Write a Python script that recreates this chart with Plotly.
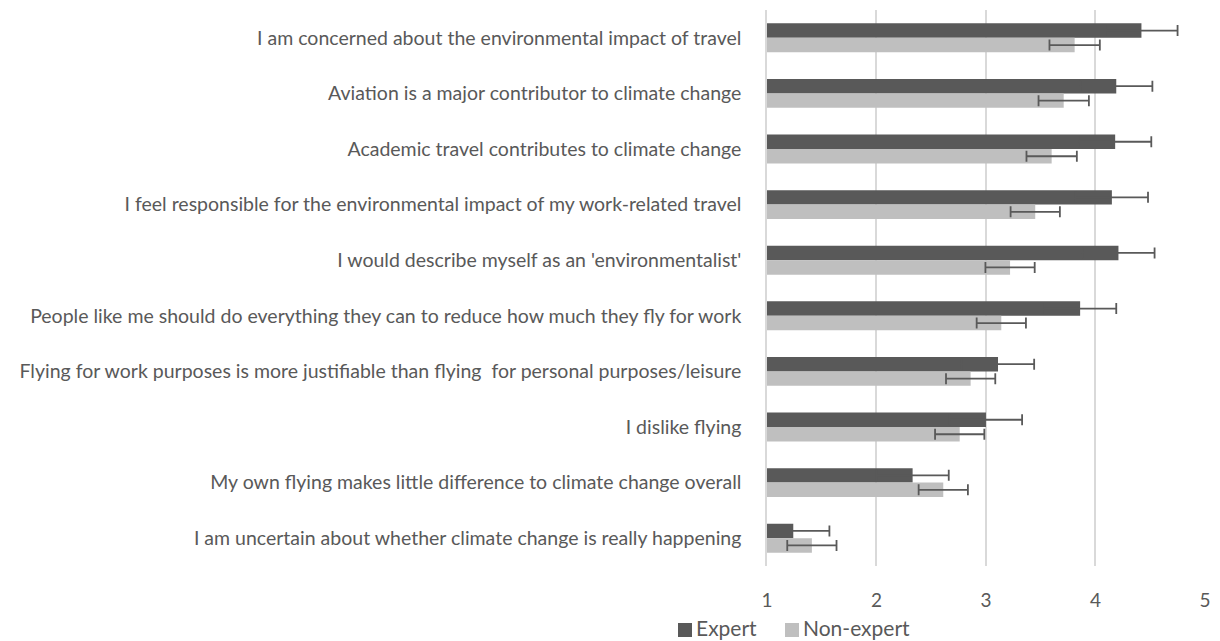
import plotly.graph_objects as go

categories = [
    "I am concerned about the environmental impact of travel",
    "Aviation is a major contributor to climate change",
    "Academic travel contributes to climate change",
    "I feel responsible for the environmental impact of my work-related travel",
    "I would describe myself as an 'environmentalist'",
    "People like me should do everything they can to reduce how much they fly for work",
    "Flying for work purposes is more justifiable than flying  for personal purposes/leisure",
    "I dislike flying",
    "My own flying makes little difference to climate change overall",
    "I am uncertain about whether climate change is really happening",
]
expert = [4.42, 4.19, 4.18, 4.15, 4.21, 3.86, 3.11, 3.00, 2.33, 1.24]
expert_err = [0.33, 0.33, 0.33, 0.33, 0.33, 0.33, 0.33, 0.33, 0.33, 0.33]
nonexpert = [3.81, 3.71, 3.60, 3.45, 3.22, 3.14, 2.86, 2.76, 2.61, 1.41]
nonexpert_err = [0.23, 0.23, 0.23, 0.225, 0.225, 0.225, 0.225, 0.225, 0.225, 0.225]
x_ticks = [1, 2, 3, 4, 5]
series_names = ["Expert", "Non-expert"]
series_colors = ["#595959", "#bfbfbf"]

err_style = dict(type="data", thickness=1.8, width=5.5, color="#595959")

fig = go.Figure()
for name, vals, errs, col in zip(series_names, [expert, nonexpert],
                                 [expert_err, nonexpert_err], series_colors):
    fig.add_trace(go.Bar(
        y=categories, x=vals, orientation="h", name=name,
        marker=dict(color=col, line=dict(width=0)),
        error_x=dict(array=errs, **err_style),
    ))

# Custom legend (compact, Excel-like)
FONT = "Lato, 'Open Sans', sans-serif"
leg_y0, leg_y1, leg_yc = -0.1025, -0.1277, -0.1115
for x0, name, col in zip([-0.2032, 0.0411], series_names, series_colors):
    fig.add_shape(type="rect", xref="paper", yref="paper", x0=x0, x1=x0 + 0.032,
                  y0=leg_y0, y1=leg_y1, fillcolor=col, line=dict(width=0))
    fig.add_annotation(xref="paper", yref="paper", x=x0 + 0.036, y=leg_yc, text=name,
                       showarrow=False, xanchor="left", yanchor="middle",
                       font=dict(family=FONT, size=21, color="#595959"))

fig.update_layout(
    width=1220, height=641,
    barmode="group", bargap=0.48, bargroupgap=0,
    plot_bgcolor="white", paper_bgcolor="white",
    margin=dict(l=767, r=15, t=10, b=75),
    font=dict(family=FONT, color="#595959"),
    showlegend=False,
    xaxis=dict(range=[1, 5.0005], tickvals=x_ticks, showgrid=True, gridcolor="#d9d9d9",
               gridwidth=1.5, zeroline=False, showline=False,
               tickfont=dict(size=19, color="#595959"), ticklabelstandoff=21),
    yaxis=dict(autorange="reversed", showgrid=False, showline=True, linecolor="#d9d9d9",
               linewidth=1.5, zeroline=False,
               ticks="", tickfont=dict(size=19.5, color="#595959"), ticklabelstandoff=20,
               automargin=False),
)

fig.write_html("out.html", config={"displayModeBar": False},
               post_script="document.body.style.margin='0';")
